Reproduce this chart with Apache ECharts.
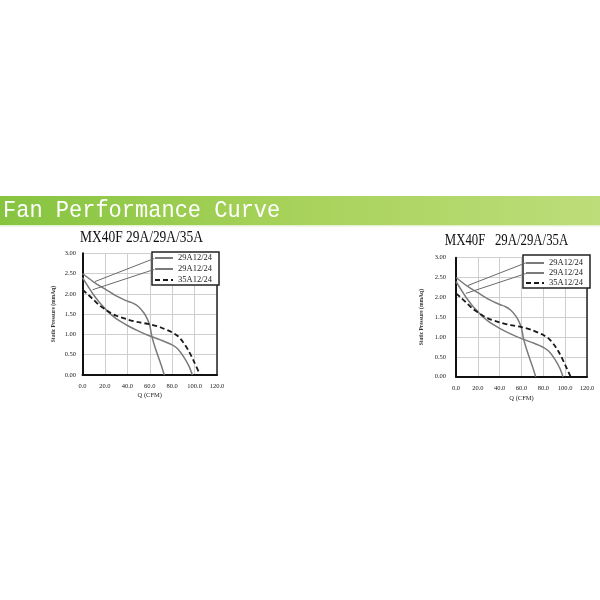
<!DOCTYPE html>
<html>
<head>
<meta charset="utf-8">
<script src="https://cdn.jsdelivr.net/npm/echarts@6/dist/echarts.min.js"></script>
<style>
  html, body { margin: 0; padding: 0; background: #fff; }
  #chart { width: 600px; height: 600px; }
</style>
</head>
<body>
<div id="chart"></div>
<script>
// Fan performance data: airflow Q (CFM) vs static pressure (mmAq)
const curveA = [[0, 2.50], [10, 2.29], [20, 2.12], [30, 1.95], [40, 1.82], [45, 1.77], [50, 1.68], [55, 1.52], [58, 1.37], [60, 1.22], [62, 0.94], [65, 0.66], [70, 0.26], [73, 0]];
const curveB = [[0, 2.40], [5, 2.18], [10, 1.97], [15, 1.79], [20, 1.64], [25, 1.50], [30, 1.39], [35, 1.30], [40, 1.22], [50, 1.08], [60, 0.96], [70, 0.86], [80, 0.74], [85, 0.64], [90, 0.46], [95, 0.22], [98, 0]];
const curveC = [[0, 2.10], [5, 1.98], [10, 1.85], [15, 1.72], [20, 1.62], [25, 1.53], [30, 1.46], [40, 1.37], [50, 1.30], [60, 1.25], [70, 1.17], [80, 1.05], [85, 0.96], [90, 0.80], [95, 0.58], [100, 0.30], [105, 0]];

const seriesKeys = ['curveA', 'curveB', 'curveC'];
const legendLabels = ['29A12/24', '29A12/24', '35A12/24'];

// Leader lines from the legend entries to their curves (data coordinates)
const leaderA = [[64, 2.87], [11, 2.30]];
const leaderB = [[64, 2.60], [9, 2.10]];

const xTickLabels = ['0.0', '20.0', '40.0', '60.0', '80.0', '100.0', '120.0'];
const yTickLabels = ['0.00', '0.50', '1.00', '1.50', '2.00', '2.50', '3.00'];

const titles = ['MX40F 29A/29A/35A', 'MX40F   29A/29A/35A'];
const bannerText = 'Fan Performance Curve';

const SERIF = '"Liberation Serif", "DejaVu Serif", serif';

const panels = [
  { grid: { left: 82.5, top: 253.2, width: 134.5, height: 121.8 },
    legend: { left: 152, top: 252, itemGap: 1, padding: [1, 7, 0, 2] },
    yLabelMargin: 6.5, yNameGap: 25.5, xLabelMargin: 7.5, xNameGap: 16.5,
    title: { x: 141.5, y: 238, scaleX: 0.84 } },
  { grid: { left: 456, top: 257.7, width: 131, height: 119 },
    legend: { left: 523, top: 255, itemGap: 0, padding: [3, 7, 0, 2] },
    yLabelMargin: 10, yNameGap: 31, xLabelMargin: 8.5, xNameGap: 18,
    title: { x: 506.5, y: 241, scaleX: 0.8 } }
];

const grids = [], xAxes = [], yAxes = [], legends = [], series = [];

panels.forEach((p, i) => {
  grids.push(Object.assign({ containLabel: false }, p.grid));

  xAxes.push({
    type: 'value', gridIndex: i, min: 0, max: 120, interval: 20,
    name: 'Q (CFM)', nameLocation: 'middle', nameGap: p.xNameGap,
    nameTextStyle: { fontFamily: SERIF, fontSize: 6.5, color: '#222' },
    axisLine: { show: true, onZero: false, lineStyle: { color: '#111', width: 2 } },
    axisTick: { show: false },
    axisLabel: { margin: p.xLabelMargin, fontFamily: SERIF, fontSize: 6.5, color: '#222',
      formatter: v => xTickLabels[Math.round(v / 20)] },
    splitLine: { show: true, lineStyle: { color: '#cfcfcf', width: 1 } }
  });

  yAxes.push({
    type: 'value', gridIndex: i, min: 0, max: 3, interval: 0.5, position: 'left',
    name: 'Static Pressure (mmAq)', nameLocation: 'middle', nameGap: p.yNameGap,
    nameTextStyle: { fontFamily: SERIF, fontSize: 5.5, fontWeight: 'bold', color: '#333' },
    axisLine: { show: true, onZero: false, lineStyle: { color: '#111', width: 2 } },
    axisTick: { show: false },
    axisLabel: { margin: p.yLabelMargin, fontFamily: SERIF, fontSize: 6.5, color: '#222',
      formatter: v => yTickLabels[Math.round(v / 0.5)] },
    splitLine: { show: true, lineStyle: { color: '#cfcfcf', width: 1 } }
  });
  // right-hand frame edge
  yAxes.push({
    type: 'value', gridIndex: i, min: 0, max: 3, interval: 0.5, position: 'right',
    axisLine: { show: true, onZero: false, lineStyle: { color: '#222', width: 1.5 } },
    axisTick: { show: false }, axisLabel: { show: false }, splitLine: { show: false }
  });

  legends.push({
    data: seriesKeys, left: p.legend.left, top: p.legend.top, orient: 'vertical',
    itemWidth: 18, itemHeight: 10, itemGap: p.legend.itemGap, padding: p.legend.padding,
    backgroundColor: '#fff', borderColor: '#222', borderWidth: 1.5, borderRadius: 0,
    selectedMode: false,
    // line-only key samples
    itemStyle: { opacity: 0 },
    textStyle: { fontFamily: SERIF, fontSize: 8.5, color: '#222', lineHeight: 10 },
    formatter: name => legendLabels[seriesKeys.indexOf(name)]
  });

  const yIdx = i * 2;
  const common = { type: 'line', xAxisIndex: i, yAxisIndex: yIdx, symbol: 'none', smooth: 0.3, silent: true, z: 3 };
  series.push(Object.assign({}, common, {
    name: 'curveA', data: curveA,
    lineStyle: { color: '#7a7a7a', width: 1.5 }, itemStyle: { color: '#7a7a7a' },
    markLine: { silent: true, symbol: ['none', 'none'], label: { show: false }, animation: false,
      lineStyle: { color: '#6a6a6a', width: 1, type: 'solid' },
      data: [[{ coord: leaderA[0] }, { coord: leaderA[1] }]] }
  }));
  series.push(Object.assign({}, common, {
    name: 'curveB', data: curveB,
    lineStyle: { color: '#7a7a7a', width: 1.5 }, itemStyle: { color: '#7a7a7a' },
    markLine: { silent: true, symbol: ['none', 'none'], label: { show: false }, animation: false,
      lineStyle: { color: '#6a6a6a', width: 1, type: 'solid' },
      data: [[{ coord: leaderB[0] }, { coord: leaderB[1] }]] }
  }));
  series.push(Object.assign({}, common, {
    name: 'curveC', data: curveC,
    lineStyle: { color: '#1a1a1a', width: 1.8, type: [5, 3] }, itemStyle: { color: '#1a1a1a' }
  }));
});

const graphic = [
  // green banner
  { type: 'rect', left: 0, top: 196, shape: { width: 600, height: 29 }, silent: true,
    style: { fill: new echarts.graphic.LinearGradient(0, 0, 1, 0, [
      { offset: 0, color: '#86c440' }, { offset: 0.45, color: '#a5d158' }, { offset: 1, color: '#bddd7a' }]) } },
  { type: 'rect', left: 0, top: 225, shape: { width: 600, height: 1.5 }, silent: true,
    style: { fill: '#e4f1cf' } },
  { type: 'text', x: 3, y: 210.5, scaleY: 1.12, silent: true,
    style: { text: bannerText, x: 0, y: 0, fill: '#fff', font: '22px "Liberation Mono", monospace',
      textAlign: 'left', textVerticalAlign: 'middle' } }
];
panels.forEach((p, i) => {
  graphic.push({ type: 'text', x: p.title.x, y: p.title.y, scaleX: p.title.scaleX, silent: true,
    style: { text: titles[i], x: 0, y: 0, fill: '#111', font: '16px ' + SERIF,
      textAlign: 'center', textVerticalAlign: 'middle' } });
});

const chart = echarts.init(document.getElementById('chart'), null, { renderer: 'canvas' });
chart.setOption({
  animation: false,
  backgroundColor: '#fff',
  grid: grids, xAxis: xAxes, yAxis: yAxes, legend: legends, series: series,
  graphic: graphic
});
</script>
</body>
</html>
